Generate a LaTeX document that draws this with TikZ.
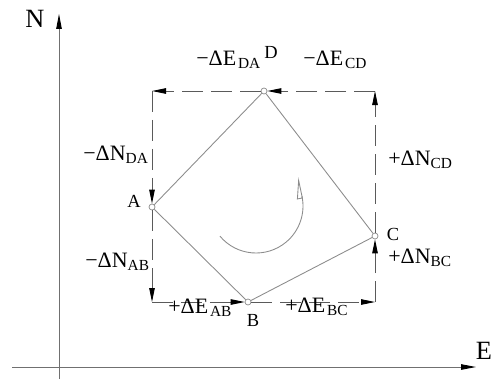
\documentclass[tikz,border=0pt]{standalone}
\usepackage{fontspec}
\setmainfont{Liberation Serif}
\usetikzlibrary{arrows.meta}
\definecolor{axisc}{HTML}{707070}
\definecolor{dimc}{HTML}{5A5A5A}
\definecolor{sidec}{HTML}{8C8C8C}
\tikzset{
  axis/.style={draw=axisc, line width=0.5pt, -{Triangle[length=3mm,width=1.1mm,color=black]}},
  dimline/.style={draw=dimc, line width=0.5pt, dash pattern=on 0.42cm off 0.16cm, -{Triangle[length=2.8mm,width=1.1mm,color=black]}},
  side/.style={draw=sidec, line width=0.5pt},
  vertex/.style={circle, draw=sidec, fill=white, inner sep=0pt, minimum size=1.2mm},
  dimlabel/.style={anchor=base west, inner sep=0pt, font=\fontsize{12.5}{15}\selectfont},
  ptlabel/.style={inner sep=0pt, font=\fontsize{10.5}{12}\selectfont},
  axlabel/.style={inner sep=0pt, font=\fontsize{15}{18}\selectfont},
  turn/.style={draw=sidec, line width=0.5pt, -{Triangle[open,left,length=4mm,width=2.2mm]}},
}

\begin{document}
\begin{tikzpicture}[x=0.02cm, y=-0.02cm]
\useasboundingbox (0,0) rectangle (492,379);
% axes
\coordinate (nfoot) at (59,379);
\coordinate (ntip) at (59,14);
\coordinate (efoot) at (12,367);
\coordinate (etip) at (476,367);
\draw[axis] (nfoot) -- (ntip);
\draw[axis] (efoot) -- (etip);
\node[axlabel] (nlab) at (35,19) {N};
\node[axlabel] (elab) at (484,351) {E};
% frame corners
\coordinate (tl) at (152,91);
\coordinate (tr) at (375,91);
\coordinate (bl) at (152,302);
\coordinate (br) at (375,302);
% traverse
\node[vertex] (A) at (152,207) {};
\node[vertex] (B) at (248,302) {};
\node[vertex] (C) at (375,236) {};
\node[vertex] (D) at (264,91) {};
\draw[side] (A) -- (B) -- (C) -- (D) -- (A);
\node[ptlabel] (alab) at (134,201) {A};
\node[ptlabel] (blab) at (253,320) {B};
\node[ptlabel] (clab) at (393,234) {C};
\node[ptlabel] (dlab) at (271,52) {D};
% coordinate differences
\draw[dimline] (tr) -- (D);
\draw[dimline] (D) -- (tl);
\draw[dimline] (tl) -- (A);
\draw[dimline] (A) -- (bl);
\draw[dimline] (bl) -- (B);
\draw[dimline] (B) -- (br);
\draw[dimline] (br) -- (C);
\draw[dimline] (C) -- (tr);
\node[dimlabel] (eda) at (196,65) {−ΔE\textsubscript{\kern1pt DA}};
\node[dimlabel] (ecd) at (303,65) {−ΔE\textsubscript{\kern1pt CD}};
\node[dimlabel] (nda) at (83,160) {−ΔN\textsubscript{DA}};
\node[dimlabel] (ncd) at (388,165) {+ΔN\textsubscript{CD}};
\node[dimlabel] (nab) at (85,267) {−ΔN\textsubscript{AB}};
\node[dimlabel] (nbc) at (388,263) {+ΔN\textsubscript{BC}};
\node[dimlabel] (eab) at (168,313) {+ΔE\textsubscript{\kern1pt AB}};
\node[dimlabel] (ebc) at (285,312) {+ΔE\textsubscript{\kern1pt BC}};
% sense of the traverse
\coordinate (ctr) at (256,206);
\draw[turn] ([shift={(140:47)}]ctr) arc (140:-12:47) -- ++(-4,-19);
\end{tikzpicture}
\end{document}
